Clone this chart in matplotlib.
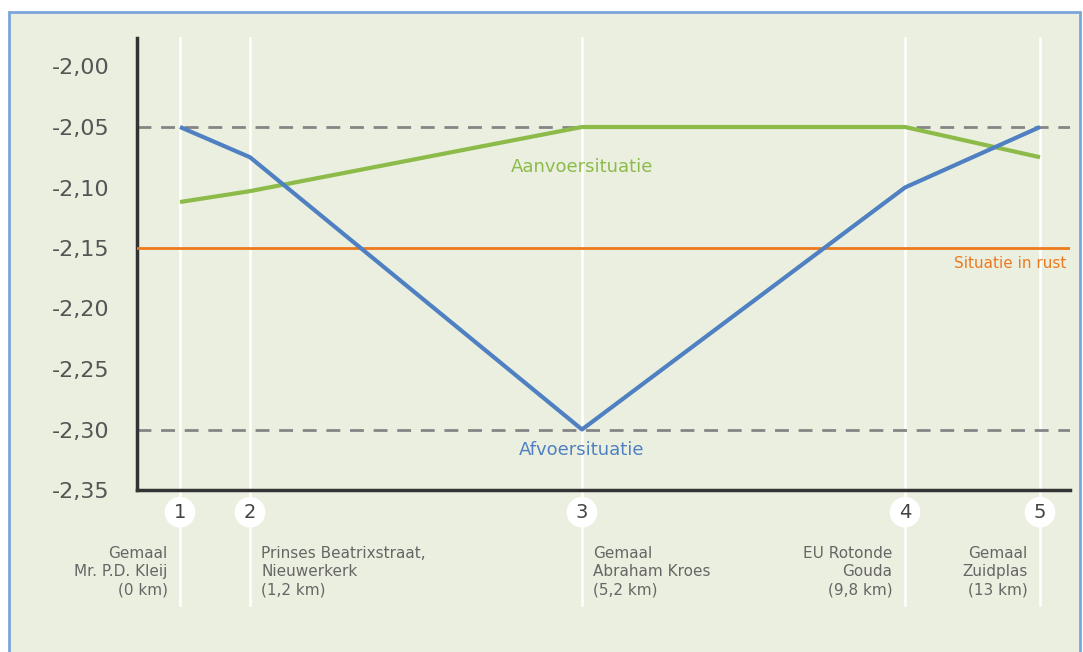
import matplotlib.pyplot as plt
import matplotlib.patches as patches

# station positions along the chart (not to scale) and water levels (m NAP)
stations = ['1', '2', '3', '4', '5']
station_pos = [43, 113, 445, 768, 903]
station_labels = ['Gemaal\nMr. P.D. Kleij\n(0 km)',
                  'Prinses Beatrixstraat,\nNieuwerkerk\n(1,2 km)',
                  'Gemaal\nAbraham Kroes\n(5,2 km)',
                  'EU Rotonde\nGouda\n(9,8 km)',
                  'Gemaal\nZuidplas\n(13 km)']
afvoer = [-2.05, -2.075, -2.30, -2.10, -2.05]
aanvoer = [-2.112, -2.103, -2.05, -2.05, -2.075]
rust = -2.15
grenzen = [-2.05, -2.30]
yticks = [-2.00, -2.05, -2.10, -2.15, -2.20, -2.25, -2.30, -2.35]

bg = '#ebefdf'
blue = '#4f81c2'
green = '#8cbb4a'
orange = '#ec7a1e'
grey = '#666666'

fig = plt.figure(figsize=(10.83, 6.52), dpi=100, facecolor='white')
fig.patches.append(patches.Rectangle((9 / 1083, -0.02), 1071 / 1083, 640 / 652 + 0.02,
                                     transform=fig.transFigure, facecolor=bg,
                                     edgecolor='#7aa6da', linewidth=2, zorder=-10))

ax = fig.add_axes([137 / 1083, (652 - 490) / 652, (1070 - 137) / 1083, 452 / 652])
ax.set_facecolor('none')
ax.set_xlim(0, 933)
ax.set_ylim(-2.35, -2.35 + 452 / 60.5 * 0.05)

# white station lines, running below the axis
for x in station_pos:
    ax.axvline(x, ymin=-0.255, ymax=1, color='white', lw=1.8, clip_on=False, zorder=1)

for y in grenzen:
    ax.axhline(y, color='#858585', lw=2, dashes=(5, 3.5), zorder=2)
ax.axhline(rust, color=orange, lw=2, zorder=3)

ax.plot(station_pos, aanvoer, color=green, lw=3, zorder=4, solid_capstyle='butt')
ax.plot(station_pos, afvoer, color=blue, lw=3, zorder=5, solid_capstyle='butt')

ax.text(445, -2.083, 'Aanvoersituatie', color=green, fontsize=13, ha='center', va='center')
ax.text(445, -2.317, 'Afvoersituatie', color=blue, fontsize=13, ha='center', va='center')
ax.text(873, -2.163, 'Situatie in rust', color=orange, fontsize=11, ha='center', va='center')

ax.set_yticks(yticks)
ax.set_yticklabels([('%.2f' % v).replace('.', ',') for v in yticks], fontsize=16, color='#555555')
ax.tick_params(axis='y', length=0, pad=20)
ax.set_xticks([])
for s in ['top', 'right']:
    ax.spines[s].set_visible(False)
for s in ['left', 'bottom']:
    ax.spines[s].set_color('#333333')
    ax.spines[s].set_linewidth(2.5)

# numbered circles and station names
for i, x in enumerate(station_pos):
    ax.annotate(stations[i], (x, 0), xycoords=('data', 'axes fraction'),
                xytext=(0, -16), textcoords='offset points', ha='center', va='center',
                fontsize=14, color='#444444', annotation_clip=False,
                bbox=dict(boxstyle='circle,pad=0.3', fc='white', ec='none'))
    ha = 'right' if i in (0, 3, 4) else 'left'
    dx = -9 if ha == 'right' else 8
    ax.annotate(station_labels[i], (x, 0), xycoords=('data', 'axes fraction'),
                xytext=(dx, -40), textcoords='offset points', ha=ha, va='top',
                fontsize=11, color=grey, linespacing=1.3, annotation_clip=False)

fig.savefig('out.png', dpi=100)
